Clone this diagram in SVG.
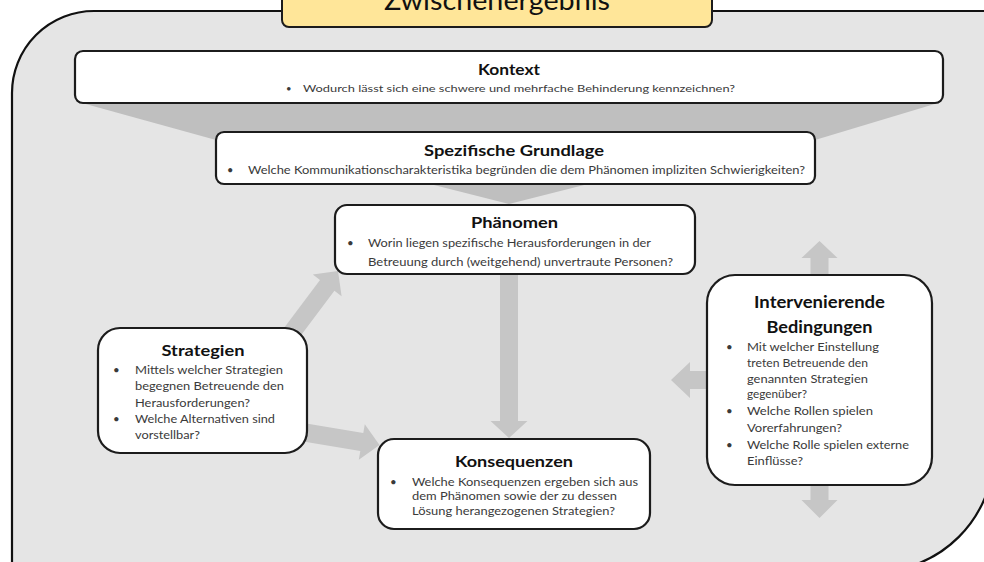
<svg xmlns="http://www.w3.org/2000/svg" width="984" height="562" viewBox="0 0 984 562">
<style>
.box{fill:#ffffff;stroke:#1c1c1c;stroke-width:2.2}
.ttl{font-family:Lato,"Open Sans","DejaVu Sans",sans-serif;font-weight:bold;fill:#111;text-anchor:middle}
.txt{font-family:Lato,"Open Sans","DejaVu Sans",sans-serif;fill:#3a3a3a}
.arr{fill:#c6c6c6}
.fun{fill:#bfbfbf}
</style>
<rect x="0" y="0" width="984" height="562" fill="#ffffff"/>
<path d="M 94 11 H 994 V 452 A 120 120 0 0 1 874 572 H 12 V 93 A 82 82 0 0 1 94 11 Z" fill="#e5e5e5" stroke="#111" stroke-width="2.2"/>
<g id="title">
<rect x="282" y="-12" width="430" height="39" rx="7" fill="#ffe699" stroke="#1c1c1c" stroke-width="2"/>
<text x="497" y="10" class="ttl" style="font-weight:normal" font-size="26" textLength="226" lengthAdjust="spacingAndGlyphs">Zwischenergebnis</text>
</g>
<g id="connectors">
<polygon class="fun" points="82,103 938,103 815,140 216,140"/>
<polygon class="fun" points="430,184 588,184 509,204"/>
<polygon class="arr" points="284,328 320,280 312.8,274.6 338,271 341.6,296.2 334.4,290.8 298.4,338.8"/>
<polygon class="arr" points="294.3,421.6 363.3,433.1 364.8,424.3 379.5,445 358.8,459.7 360.3,450.9 291.3,439.4"/>
<polygon class="arr" points="500,268 518,268 518,421 527.5,421 509,438 490.5,421 500,421"/>
<polygon class="arr" points="810.5,290 810.5,258 801.5,258 819.5,241 837.5,258 828.5,258 828.5,290"/>
<polygon class="arr" points="715,371 690,371 690,362 671,380 690,398 690,389 715,389"/>
<polygon class="arr" points="810.5,470 810.5,500 801.5,500 819.5,518 837.5,500 828.5,500 828.5,470"/>
</g>
<g id="kontext">
<rect class="box" x="75" y="51" width="868" height="52" rx="8"/>
<text x="509" y="75" class="ttl" font-size="15" textLength="62" lengthAdjust="spacingAndGlyphs">Kontext</text>
<text x="286" y="92" class="txt" font-size="9.5">•</text>
<text x="303" y="92" class="txt" font-size="9.5" textLength="432" lengthAdjust="spacingAndGlyphs">Wodurch lässt sich eine schwere und mehrfache Behinderung kennzeichnen?</text>
</g>
<g id="grundlage">
<rect class="box" x="216" y="132" width="599" height="52" rx="8"/>
<text x="514" y="156" class="ttl" font-size="16" textLength="180" lengthAdjust="spacingAndGlyphs">Spezifische Grundlage</text>
<text x="227" y="174" class="txt" font-size="11">•</text>
<text x="248" y="174" class="txt" font-size="11" textLength="557" lengthAdjust="spacingAndGlyphs">Welche Kommunikationscharakteristika begründen die dem Phänomen impliziten Schwierigkeiten?</text>
</g>
<g id="phaenomen">
<rect class="box" x="335" y="205" width="360" height="69" rx="12"/>
<text x="514.5" y="228" class="ttl" font-size="16" textLength="87" lengthAdjust="spacingAndGlyphs">Phänomen</text>
<text x="347" y="247" class="txt" font-size="11.5">•</text>
<text x="368" y="247" class="txt" font-size="11.5" textLength="283" lengthAdjust="spacingAndGlyphs">Worin liegen spezifische Herausforderungen in der</text>
<text x="368" y="266" class="txt" font-size="11.5" textLength="305" lengthAdjust="spacingAndGlyphs">Betreuung durch (weitgehend) unvertraute Personen?</text>
</g>
<g id="strategien">
<rect class="box" x="98" y="328" width="209" height="125" rx="22"/>
<text x="203" y="356" class="ttl" font-size="16" textLength="83" lengthAdjust="spacingAndGlyphs">Strategien</text>
<text x="113" y="374" class="txt" font-size="11.5">•</text>
<text x="135" y="374" class="txt" font-size="11.5" textLength="148" lengthAdjust="spacingAndGlyphs">Mittels welcher Strategien</text>
<text x="135" y="390" class="txt" font-size="11.5" textLength="149" lengthAdjust="spacingAndGlyphs">begegnen Betreuende den</text>
<text x="135" y="407" class="txt" font-size="11.5" textLength="115" lengthAdjust="spacingAndGlyphs">Herausforderungen?</text>
<text x="113" y="423" class="txt" font-size="11.5">•</text>
<text x="135" y="423" class="txt" font-size="11.5" textLength="140" lengthAdjust="spacingAndGlyphs">Welche Alternativen sind</text>
<text x="135" y="439" class="txt" font-size="11.5" textLength="65" lengthAdjust="spacingAndGlyphs">vorstellbar?</text>
</g>
<g id="konsequenzen">
<rect class="box" x="378" y="439" width="272" height="90" rx="16"/>
<text x="514" y="467" class="ttl" font-size="16" textLength="118" lengthAdjust="spacingAndGlyphs">Konsequenzen</text>
<text x="390" y="486" class="txt" font-size="11.5">•</text>
<text x="412" y="486" class="txt" font-size="11.5" textLength="226" lengthAdjust="spacingAndGlyphs">Welche Konsequenzen ergeben sich aus</text>
<text x="412" y="500" class="txt" font-size="11.5" textLength="205" lengthAdjust="spacingAndGlyphs">dem Phänomen sowie der zu dessen</text>
<text x="412" y="515" class="txt" font-size="11.5" textLength="203" lengthAdjust="spacingAndGlyphs">Lösung herangezogenen Strategien?</text>
</g>
<g id="intervenierende">
<rect class="box" x="707" y="275" width="225" height="210" rx="28"/>
<text x="819.5" y="308" class="ttl" font-size="17" textLength="131" lengthAdjust="spacingAndGlyphs">Intervenierende</text>
<text x="819.5" y="333" class="ttl" font-size="17" textLength="106" lengthAdjust="spacingAndGlyphs">Bedingungen</text>
<text x="726" y="351" class="txt" font-size="11.5">•</text>
<text x="747" y="351" class="txt" font-size="11.5" textLength="132" lengthAdjust="spacingAndGlyphs">Mit welcher Einstellung</text>
<text x="747" y="367" class="txt" font-size="11.5" textLength="121" lengthAdjust="spacingAndGlyphs">treten Betreuende den</text>
<text x="747" y="383" class="txt" font-size="11.5" textLength="121" lengthAdjust="spacingAndGlyphs">genannten Strategien</text>
<text x="747" y="398" class="txt" font-size="11.5" textLength="60" lengthAdjust="spacingAndGlyphs">gegenüber?</text>
<text x="726" y="415" class="txt" font-size="11.5">•</text>
<text x="747" y="415" class="txt" font-size="11.5" textLength="126" lengthAdjust="spacingAndGlyphs">Welche Rollen spielen</text>
<text x="747" y="432" class="txt" font-size="11.5" textLength="95" lengthAdjust="spacingAndGlyphs">Vorerfahrungen?</text>
<text x="726" y="449" class="txt" font-size="11.5">•</text>
<text x="747" y="449" class="txt" font-size="11.5" textLength="162" lengthAdjust="spacingAndGlyphs">Welche Rolle spielen externe</text>
<text x="747" y="465" class="txt" font-size="11.5" textLength="56" lengthAdjust="spacingAndGlyphs">Einflüsse?</text>
</g>
</svg>
